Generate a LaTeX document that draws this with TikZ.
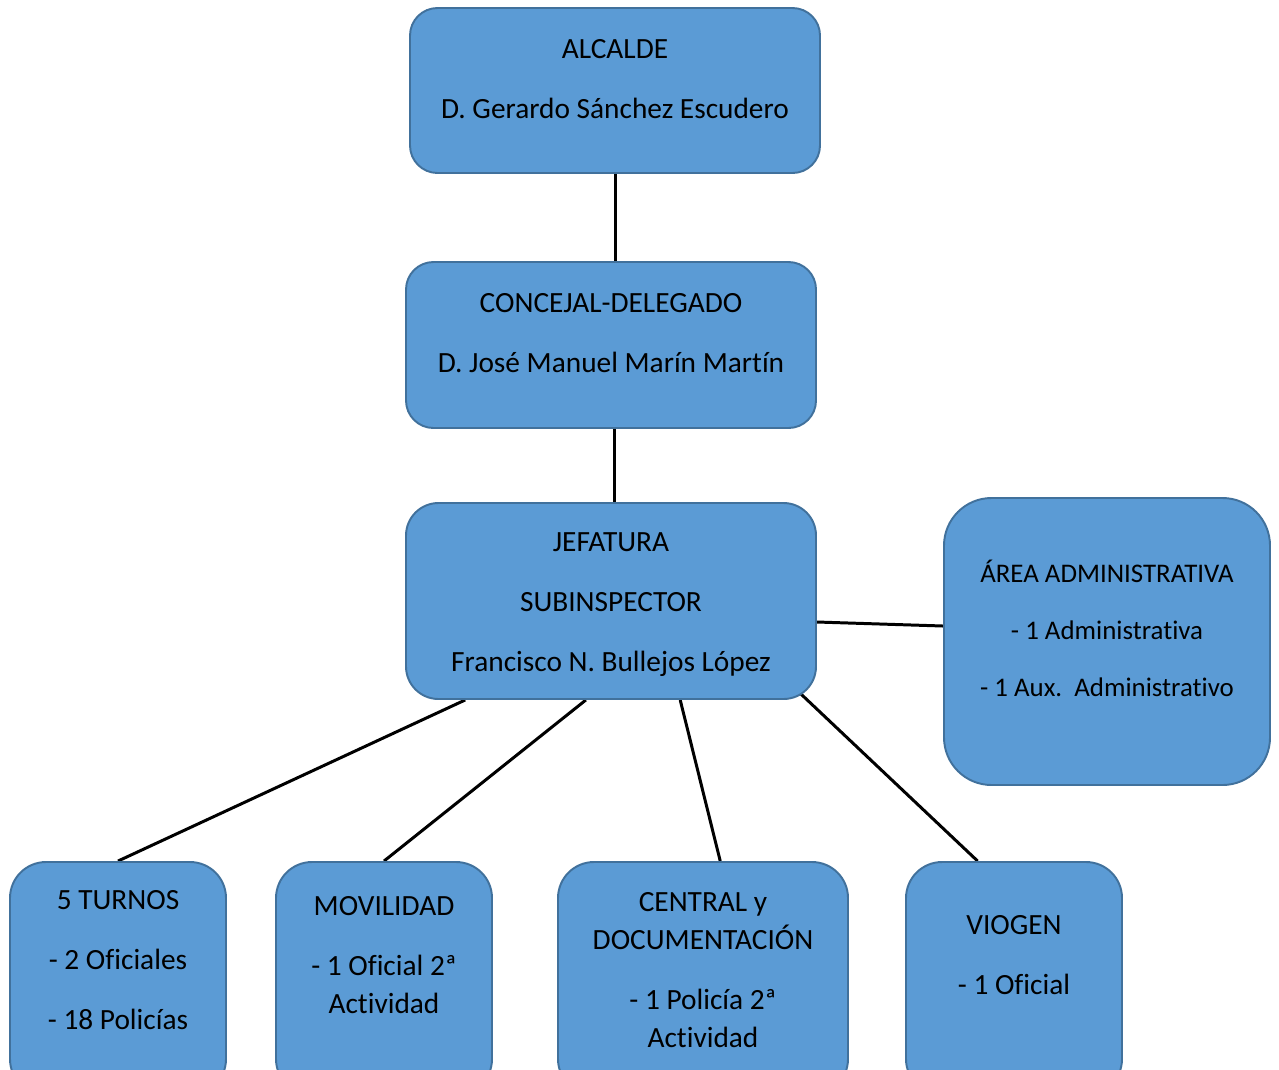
\documentclass[tikz,border=0pt]{standalone}
\usepackage{fontspec}
\setmainfont{Carlito}[Ligatures=NoCommon]
\usetikzlibrary{calc,positioning,backgrounds}
\definecolor{boxfill}{HTML}{5B9BD5}
\definecolor{boxline}{HTML}{41719C}

\begin{document}
\begin{tikzpicture}[font=\fontsize{16.7}{21.5}\selectfont]
\tikzset{B/.style={rectangle,draw=boxline,fill=boxfill,line width=1.1pt,inner sep=0},
T/.style={align=center,inner sep=0},
L/.style={line width=1.7pt}
}
\useasboundingbox (0,0) rectangle (25.58,-21.38);

% Top of the chart
\node(1)[B,rounded corners=0.55cm,minimum width=8.2cm,minimum height=3.3cm,
label={[T,below=0.65cm]north:{ALCALDE\\[12.5pt]D. Gerardo Sánchez Escudero}}] at (12.30,-1.81) {};
\node(2)[B,rounded corners=0.55cm,minimum width=8.2cm,minimum height=3.32cm,
label={[T,below=0.65cm]north:{CONCEJAL-DELEGADO\\[12.5pt]D. José Manuel Marín Martín}}] at (12.22,-6.90) {};
\node(3)[B,rounded corners=0.65cm,minimum width=8.2cm,minimum height=3.92cm,
label={[T,below=0.61cm]north:{JEFATURA\\[12.5pt]SUBINSPECTOR\\[12.5pt]Francisco N. Bullejos López}}] at (12.22,-12.02) {};
\node(4)[B,rounded corners=0.95cm,minimum width=6.52cm,minimum height=5.74cm,
label={[T,below=1.26cm,font=\fontsize{15.3}{32.3}\selectfont]north:{ÁREA ADMINISTRATIVA\\- 1 Administrativa\\- 1 Aux.\ \ Administrativo}}] at (22.14,-12.83) {};

% Bottom row
\node(5)[B,rounded corners=0.72cm,minimum width=4.32cm,minimum height=4.66cm,
label={[T,below=0.59cm]north:{5 TURNOS\\[12.5pt]- 2 Oficiales\\[12.5pt]- 18 Policías}}] at (2.36,-19.57) {};
\node(6)[B,rounded corners=0.72cm,minimum width=4.32cm,minimum height=4.66cm,
label={[T,below=0.71cm]north:{MOVILIDAD\\[12.5pt]- 1 Oficial 2ª\\Actividad}}] at (7.68,-19.57) {};
\node(7)[B,rounded corners=0.72cm,minimum width=5.8cm,minimum height=4.66cm,
label={[T,below=0.63cm]north:{CENTRAL y\\DOCUMENTACIÓN\\[12.5pt]- 1 Policía 2ª\\Actividad}}] at (14.06,-19.57) {};
\node(8)[B,rounded corners=0.72cm,minimum width=4.32cm,minimum height=4.66cm,
label={[T,below=1.09cm]north:{VIOGEN\\[12.5pt]- 1 Oficial}}] at (20.28,-19.57) {};

% connectors
\begin{pgfonlayer}{background}
\draw[L] (1.south) -- (1.south |- 2.north);
\draw[L] ($(2.south)+(0.06,0)$) -- ($(2.south |- 3.north)+(0.06,0)$);
\draw[L] ($(3.east)+(0,-0.42)$) -- ($(4.west)+(0,0.31)$);
\draw[L] ($(3.south west)!0.146!(3.south east)$) -- (5.north);
\draw[L] ($(3.south west)!0.439!(3.south east)$) -- (6.north);
\draw[L] ($(3.south west)!0.668!(3.south east)$) -- ($(7.north west)!0.559!(7.north east)$);
\draw[L] ($(3.south west)!0.961!(3.south east)+(0,0.12)$) -- ($(8.north west)!0.333!(8.north east)$);
\end{pgfonlayer}

\end{tikzpicture}
\end{document}
